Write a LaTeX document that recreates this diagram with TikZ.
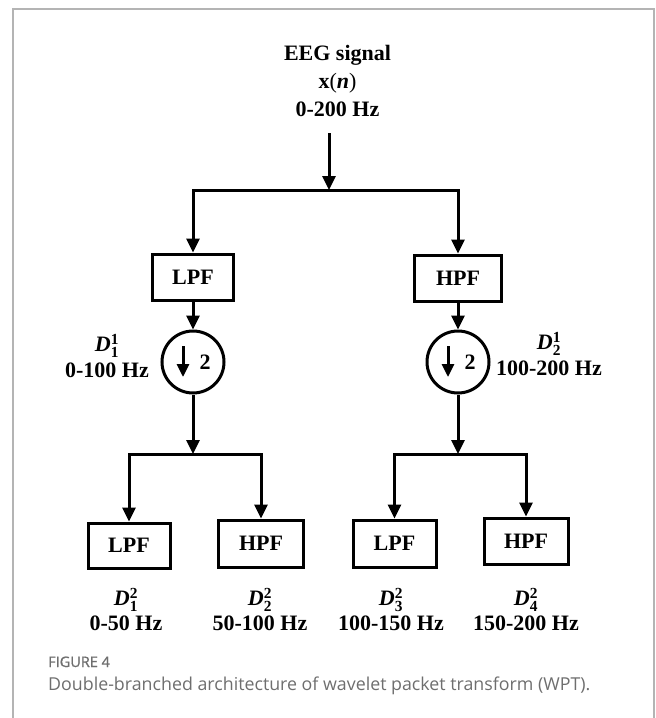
\documentclass[tikz,border=0pt]{standalone}
\usepackage{fontspec}
\usepackage{amsmath}
\setmainfont{Liberation Serif}
\newfontfamily\capfont{Open Sans}
\newfontfamily\figfont{Open Sans}[FakeBold=1.2]
\usetikzlibrary{arrows.meta,calc}
\definecolor{framegray}{HTML}{B4B4B4}
\definecolor{capgray}{HTML}{6E6E6E}
\newcommand{\Dlab}[2]{\textit{D}$^{\textbf{#1}}_{\textbf{#2}}$}
\begin{document}
\begin{tikzpicture}[x=1pt,y=-1pt,
  every node/.style={font=\fontsize{22}{27}\selectfont\bfseries, inner sep=0pt},
  arr/.style={line width=3pt,-{Triangle[width=13pt,length=14pt]}},
  smallarr/.style={line width=3pt,-{Triangle[width=12pt,length=13pt]}},
  fbox/.style={draw,line width=3pt,minimum width=83pt,minimum height=46pt},
  dsbox/.style={draw,circle,line width=3pt,minimum size=62pt},
  lab/.style={align=center},
  line join=miter
]
\useasboundingbox (0,0) rectangle (656,718);
% frame
\draw[framegray,line width=1.4pt] (13,718) -- (13,9) -- (654,9) -- (654,718);

% input
\node[lab,font=\fontsize{22}{28}\selectfont\bfseries] (in) at (337.5,81) {EEG signal\\\textbf{x}{\mdseries(}\textit{n}{\mdseries)}\\0-200 Hz};
\coordinate (s0) at (329,133);
\coordinate (j0) at (329,190);

% level 1
\node[fbox,minimum width=81pt] (lpf) at (193,277) {LPF};
\node[fbox,minimum width=87pt] (hpf) at (458,278) {HPF};
\node[dsbox] (c1) at (193,362) {};
\node[dsbox] (c2) at (458,362) {};
\node (t1) at ($(c1)+(12,0)$) {2};
\node (t2) at ($(c2)+(12,0)$) {2};
\node[lab] (d11) at (107,356) {\Dlab{1}{1}\\[-1pt]0-100 Hz};
\node[lab] (d21) at (549,354) {\Dlab{1}{2}\\[-1pt]100-200 Hz};

\coordinate (j1) at (193,454);
\coordinate (j2) at (458,454);

% level 2
\node[fbox,minimum width=82pt,minimum height=45pt] (b1) at (129,545.5) {LPF};
\node[fbox,minimum width=85pt,minimum height=47pt] (b2) at (261,543.5) {HPF};
\node[fbox,minimum width=83pt,minimum height=47pt] (b3) at (394.5,543.5) {LPF};
\node[fbox,minimum width=84pt,minimum height=46pt] (b4) at (526,541) {HPF};

\node[lab] (l1) at (126,609.5) {\Dlab{2}{1}\\[-2pt]0-50 Hz};
\node[lab] (l2) at (260,609.5) {\Dlab{2}{2}\\[-2pt]50-100 Hz};
\node[lab] (l3) at (391,609.5) {\Dlab{2}{3}\\[-2pt]100-150 Hz};
\node[lab] (l4) at (526,609.5) {\Dlab{2}{4}\\[-2pt]150-200 Hz};

% connectors
\draw[arr] (s0) -- (j0);
\draw[arr] (j0) -| (lpf.north);
\draw[arr] (j0) -| (hpf.north);
\draw[arr] (lpf.south) -- (c1.north);
\draw[arr] (hpf.south) -- (c2.north);
\draw[smallarr] ($(c1)+(-10,-16)$) -- ($(c1)+(-10,15)$);
\draw[smallarr] ($(c2)+(-10,-16)$) -- ($(c2)+(-10,15)$);
\draw[arr] (c1.south) -- (j1);
\draw[arr] (c2.south) -- (j2);
\draw[arr] (j1) -| (b1.north);
\draw[arr] (j1) -| (b2.north);
\draw[arr] (j2) -| (b3.north);
\draw[arr] (j2) -| (b4.north);

% caption
\node[anchor=base west,font=\figfont\fontsize{14.5}{16}\selectfont,text=capgray] (fig) at (48,667) {FIGURE 4};
\node[anchor=base west,font=\capfont\fontsize{17.8}{20}\selectfont,text=capgray] (cap) at (48,690) {Double-branched architecture of wavelet packet transform (WPT).};
\end{tikzpicture}
\end{document}
